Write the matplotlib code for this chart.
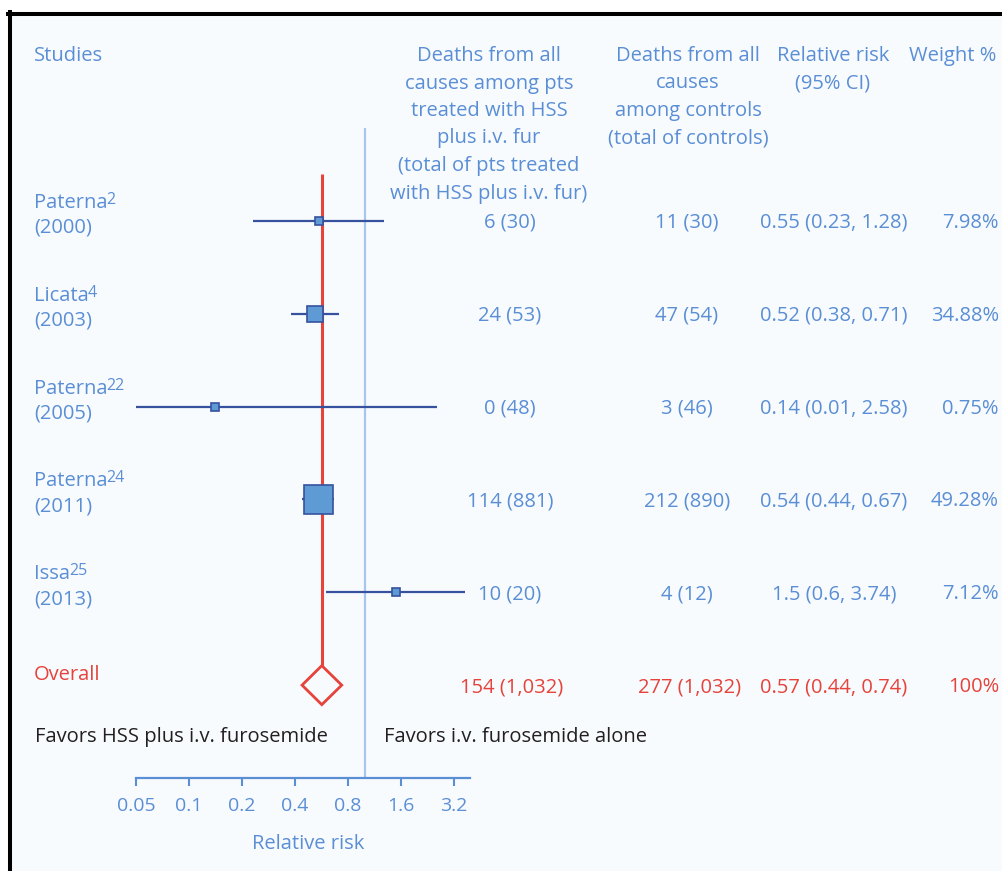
import matplotlib
matplotlib.use('Agg')
import matplotlib.pyplot as plt
import matplotlib.transforms as mtransforms
from matplotlib.patches import Polygon, Rectangle
from matplotlib.lines import Line2D
from matplotlib.ticker import NullLocator, FixedLocator, FixedFormatter

plt.rcParams['font.family'] = ['Open Sans', 'DejaVu Sans']

# ---------------- data ----------------
study_names = ["Paterna", "Licata", "Paterna", "Paterna", "Issa"]
study_refs = ["2", "4", "22", "24", "25"]
study_years = ["2000", "2003", "2005", "2011", "2013"]
rr = [0.55, 0.52, 0.14, 0.54, 1.5]
rr_low = [0.23, 0.38, 0.01, 0.44, 0.6]
rr_high = [1.28, 0.71, 2.58, 0.67, 3.74]
weights = [7.98, 34.88, 0.75, 49.28, 7.12]
treated_deaths = [6, 24, 0, 114, 10]
treated_total = [30, 53, 48, 881, 20]
control_deaths = [11, 47, 3, 212, 4]
control_total = [30, 54, 46, 890, 12]
overall_rr = 0.57
overall_low = 0.44
overall_high = 0.74
overall_treated = (154, 1032)
overall_control = (277, 1032)
overall_weight = "100%"
tick_values = [0.05, 0.1, 0.2, 0.4, 0.8, 1.6, 3.2]
tick_labels = ["0.05", "0.1", "0.2", "0.4", "0.8", "1.6", "3.2"]

headers = {
    "studies": ["Studies"],
    "treated": ["Deaths from all", "causes among pts", "treated with HSS", "plus i.v. fur",
                "(total of pts treated", "with HSS plus i.v. fur)"],
    "control": ["Deaths from all", "causes", "among controls", "(total of controls)"],
    "rr": ["Relative risk", "(95% CI)"],
    "weight": ["Weight %"],
}
favors_left = "Favors HSS plus i.v. furosemide"
favors_right = "Favors i.v. furosemide alone"
x_label = "Relative risk"

# ---------------- style ----------------
W, H = 1003, 871
BG = '#F8FBFE'
BLUE = '#5A8ED5'
RED = '#E5433B'
NAVY = '#36519E'
BOX = '#5E9BD4'
LIGHT = '#A8C6EC'
DARK = '#231F20'
FS = 14.5

fig = plt.figure(figsize=(W / 100, H / 100), dpi=100)
fig.patch.set_facecolor('white')
fig.add_artist(Rectangle((10 / W, 0), 1, 1 - 14 / H, transform=fig.transFigure,
                         facecolor=BG, edgecolor='none', zorder=0))
fig.add_artist(Line2D([10 / W, 10 / W], [0, 1 - 12 / H], color='black', lw=2.9,
                      transform=fig.transFigure, zorder=5))
fig.add_artist(Line2D([8 / W, 1], [1 - 14 / H, 1 - 14 / H], color='black', lw=2.9,
                      transform=fig.transFigure, zorder=5))

ax = fig.add_axes([136 / W, 1 - 778 / H, 334 / W, 650 / H])
ax.set_xscale('log', base=2)
ax.set_xlim(0.05, 3.97)
ax.set_ylim(6, -1)
ax.patch.set_alpha(0)
for s in ['left', 'right', 'top']:
    ax.spines[s].set_visible(False)
ax.spines['bottom'].set_color(BLUE)
ax.spines['bottom'].set_linewidth(1.6)
ax.xaxis.set_major_locator(FixedLocator(tick_values))
ax.xaxis.set_major_formatter(FixedFormatter(tick_labels))
ax.xaxis.set_minor_locator(NullLocator())
ax.tick_params(axis='x', direction='out', length=6, width=1.5, color=BLUE,
               labelcolor=BLUE, labelsize=14, pad=8)
ax.set_yticks([])
ax.set_xlabel(x_label, color=BLUE, fontsize=FS, labelpad=13)
ax.xaxis.label.set_x((308 - 136) / 334)

rows = list(range(len(rr)))
overall_row = len(rr)

# reference line at 1
ax.axvline(1, color=LIGHT, lw=1.6, zorder=1)
# overall vertical line
dh = 0.21
ax.vlines(overall_rr, -0.5, overall_row - dh, color=RED, lw=2.2, zorder=2)
# CIs and boxes
ax.hlines(rows, rr_low, rr_high, color=NAVY, lw=1.6, zorder=3)
for r, v, w in zip(rows, rr, weights):
    side_px = max(8.0, 29 * (w / max(weights)) ** 1.75)
    ax.plot([v], [r], marker='s', ms=side_px * 0.72, mfc=BOX, mec=NAVY, mew=1.2,
            ls='none', zorder=4)
# diamond
diamond = Polygon([(overall_low, overall_row), (overall_rr, overall_row - dh),
                   (overall_high, overall_row), (overall_rr, overall_row + dh)],
                  closed=True, facecolor=BG, edgecolor=RED, lw=2.0, zorder=4)
ax.add_patch(diamond)

# ---------------- text helpers ----------------
pix = mtransforms.Affine2D().scale(1 / W, 1 / H) + fig.transFigure
row_tr = mtransforms.blended_transform_factory(pix, ax.transData)


def ftext(x, y_top, s, **kw):
    return fig.text(x / W, 1 - y_top / H, s, **kw)


def rtext(x, row, dy, s, **kw):
    t = row_tr + mtransforms.ScaledTranslation(0, -dy / 100, fig.dpi_scale_trans)
    return fig.text(x, row, s, transform=t, **kw)


# headers
col_x = {"studies": (34, 'left'), "treated": (489, 'center'), "control": (688, 'center'),
         "rr": (833, 'center'), "weight": (953, 'center')}
for key, lines in headers.items():
    x, ha = col_x[key]
    for k, line in enumerate(lines):
        ftext(x, 61 + 27.5 * k, line, ha=ha, va='baseline', color=BLUE, fontsize=FS)

# study rows
for r in rows:
    name = rtext(34, r, -13, study_names[r], ha='left', va='baseline', color=BLUE,
                 fontsize=FS)
    ax.annotate(study_refs[r], xy=(1, r), xycoords=(name, row_tr),
                xytext=(-1, 17), textcoords='offset pixels', ha='left', va='baseline',
                color=BLUE, fontsize=11.5, annotation_clip=False)
    rtext(34, r, 12, f"({study_years[r]})", ha='left', va='baseline', color=BLUE, fontsize=FS)
    rtext(510, r, 7, f"{treated_deaths[r]} ({treated_total[r]:,})", ha='center',
          va='baseline', color=BLUE, fontsize=FS)
    rtext(687, r, 7, f"{control_deaths[r]} ({control_total[r]:,})", ha='center',
          va='baseline', color=BLUE, fontsize=FS)
    rtext(834, r, 7, f"{rr[r]:g} ({rr_low[r]:g}, {rr_high[r]:g})", ha='center',
          va='baseline', color=BLUE, fontsize=FS)
    rtext(999, r, 7, f"{weights[r]:.2f}%", ha='right', va='baseline', color=BLUE,
          fontsize=FS)

# overall row
rtext(34, overall_row, -5, "Overall", ha='left', va='baseline', color=RED, fontsize=FS)
rtext(512, overall_row, 7, f"{overall_treated[0]} ({overall_treated[1]:,})", ha='center',
      va='baseline', color=RED, fontsize=FS)
rtext(690, overall_row, 7, f"{overall_control[0]} ({overall_control[1]:,})", ha='center',
      va='baseline', color=RED, fontsize=FS)
rtext(834, overall_row, 7, f"{overall_rr:g} ({overall_low:g}, {overall_high:g})",
      ha='center', va='baseline', color=RED, fontsize=FS)
rtext(999, overall_row, 7, overall_weight, ha='right', va='baseline', color=RED, fontsize=FS)

# favors
ftext(35, 742, favors_left, ha='left', va='baseline', color=DARK, fontsize=FS)
ftext(384, 742, favors_right, ha='left', va='baseline', color=DARK, fontsize=FS)

fig.savefig('out.png', dpi=100, facecolor='white')
